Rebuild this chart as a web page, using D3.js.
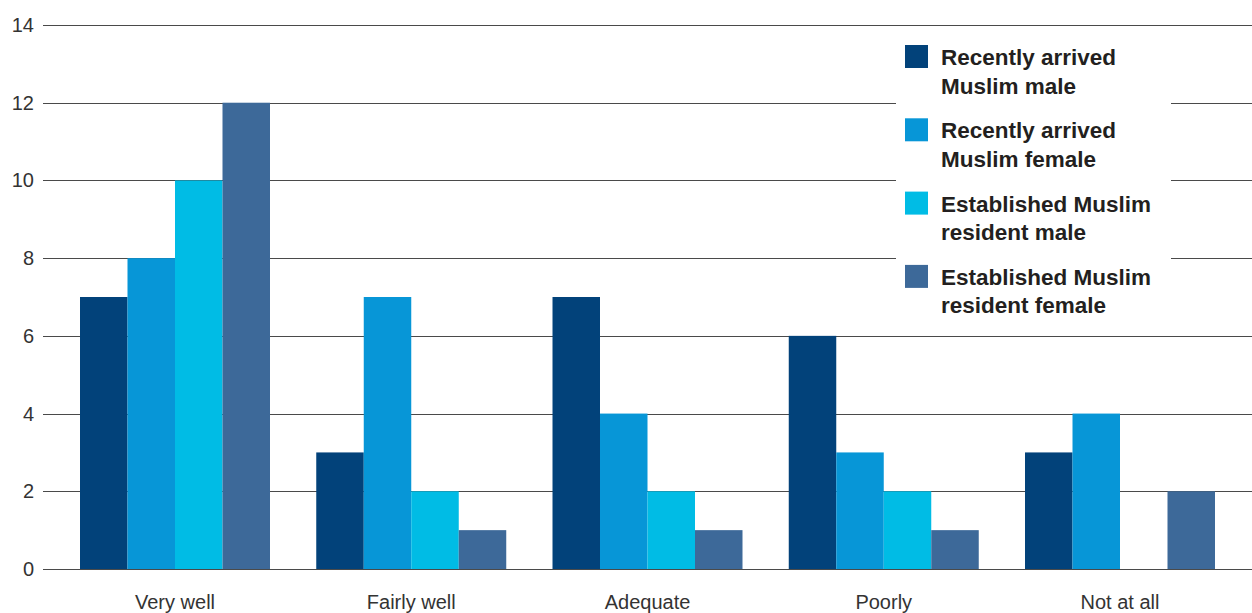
<!DOCTYPE html>
<html><head><meta charset="utf-8">
<script src="https://cdn.jsdelivr.net/npm/d3@7"></script>
<style>body{margin:0;background:#fff}svg{display:block}</style>
</head><body>
<svg id="c" width="1252" height="613"></svg>
<script>
const categories = ["Very well", "Fairly well", "Adequate", "Poorly", "Not at all"];
const seriesNames = [
  ["Recently arrived", "Muslim male"],
  ["Recently arrived", "Muslim female"],
  ["Established Muslim", "resident male"],
  ["Established Muslim", "resident female"]
];
const recentMale = [7, 3, 7, 6, 3];
const recentFemale = [8, 7, 4, 3, 4];
const establishedMale = [10, 2, 2, 2, 0];
const establishedFemale = [12, 1, 1, 1, 2];
const yTicks = [0, 2, 4, 6, 8, 10, 12, 14];
const colors = ["#02427a", "#0796d7", "#00bce5", "#3d6999"];

const series = [recentMale, recentFemale, establishedMale, establishedFemale];
const svg = d3.select("#c");
const font = "'Liberation Sans', Arial, Helvetica, sans-serif";

const y = d3.scaleLinear().domain([0, 14]).range([569, 25]);
const x0 = d3.scaleBand().domain(categories).range([56.875, 1238.125]).paddingInner(0.1958).paddingOuter(0.0979);
const x1 = d3.scaleBand().domain(d3.range(4)).range([0, x0.bandwidth()]);

// gridlines
svg.append("g").selectAll("line").data(yTicks).join("line")
  .attr("x1", 43).attr("x2", 1252)
  .attr("y1", d => Math.round(y(d)) + 0.5).attr("y2", d => Math.round(y(d)) + 0.5)
  .attr("stroke", "#4a4a4a").attr("stroke-width", 1);

// y tick labels
svg.append("g").selectAll("text").data(yTicks).join("text")
  .attr("x", 34).attr("y", d => y(d)).attr("dy", "0.35em")
  .attr("text-anchor", "end").attr("font-family", font).attr("font-size", 20)
  .attr("fill", "#333").text(d => d);

// bars
const g = svg.append("g");
categories.forEach((c, ci) => {
  series.forEach((s, si) => {
    g.append("rect")
      .attr("x", x0(c) + x1(si)).attr("width", x1.bandwidth())
      .attr("y", y(s[ci])).attr("height", y(0) - y(s[ci]))
      .attr("fill", colors[si]);
  });
});

// category labels
svg.append("g").selectAll("text").data(categories).join("text")
  .attr("x", d => x0(d) + x0.bandwidth() / 2).attr("y", 609)
  .attr("text-anchor", "middle").attr("font-family", font).attr("font-size", 20)
  .attr("fill", "#333").text(d => d);

// legend
const lg = svg.append("g");
lg.append("rect").attr("x", 896).attr("y", 32).attr("width", 275).attr("height", 293).attr("fill", "#fff");
seriesNames.forEach((nm, i) => {
  const top = 45 + i * 73.3;
  lg.append("rect").attr("x", 905).attr("y", top).attr("width", 23).attr("height", 23).attr("fill", colors[i]);
  const t = lg.append("text").attr("font-family", font).attr("font-size", 22.5).attr("font-weight", "bold").attr("fill", "#231f20");
  nm.forEach((line, li) => {
    t.append("tspan").attr("x", 941).attr("y", top + 20 + li * 28.5).text(line);
  });
});
</script>
</body></html>
